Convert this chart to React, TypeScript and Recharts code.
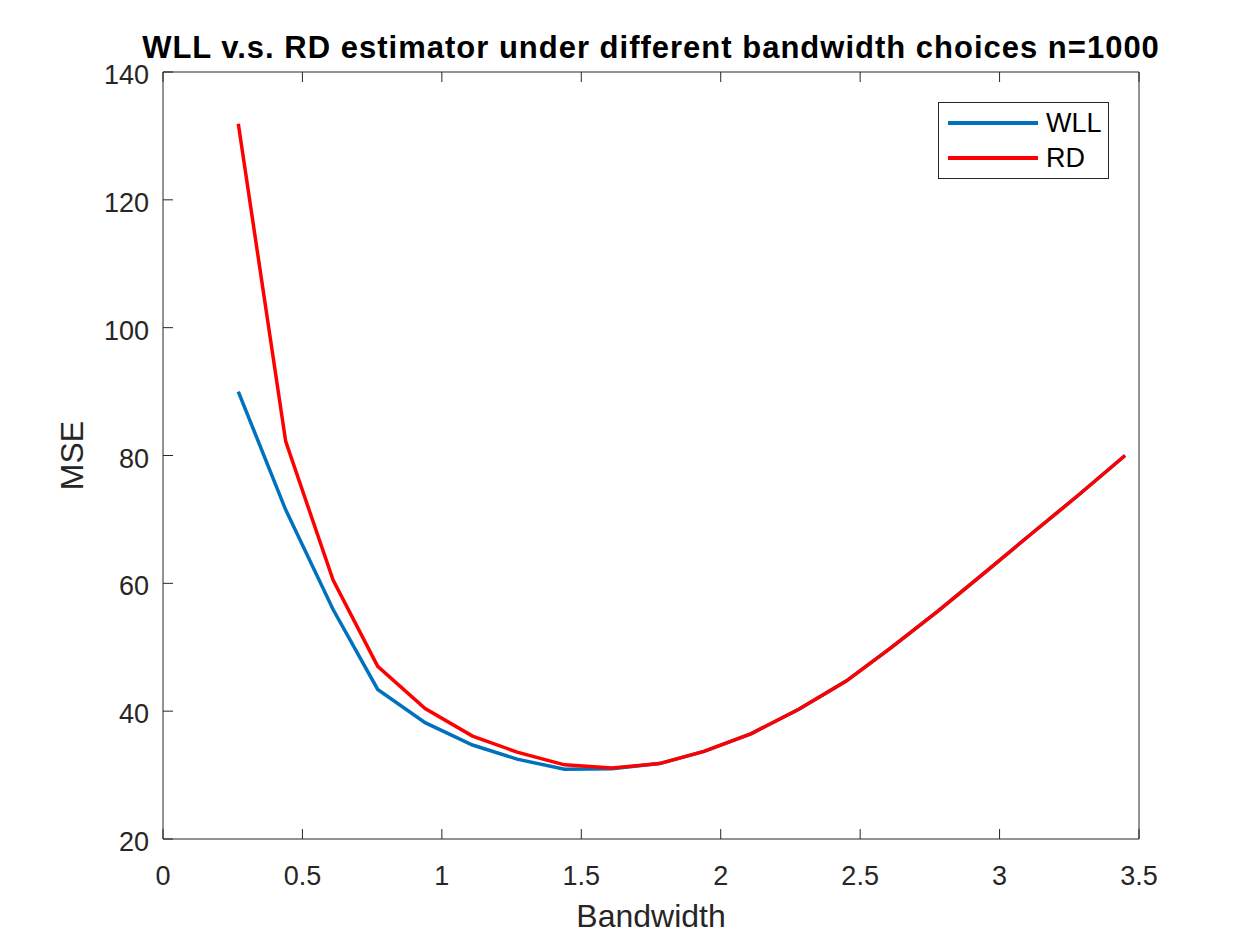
import { LineChart, Line, XAxis, YAxis } from 'recharts';

const bandwidth = [0.27, 0.44, 0.61, 0.77, 0.94, 1.11, 1.27, 1.44, 1.61, 1.78, 1.94, 2.11, 2.28, 2.45, 2.61, 2.78, 2.95, 3.11, 3.28, 3.45];
const wllMse = [90.0, 71.5, 55.9, 43.4, 38.2, 34.7, 32.5, 30.9, 31.0, 31.8, 33.7, 36.5, 40.3, 44.7, 49.9, 55.7, 61.8, 67.6, 73.7, 80.0];
const rdMse = [131.9, 82.2, 60.5, 47.0, 40.4, 36.1, 33.6, 31.6, 31.1, 31.8, 33.7, 36.5, 40.3, 44.7, 49.9, 55.7, 61.8, 67.6, 73.7, 80.0];
const xTicks = [0, 0.5, 1, 1.5, 2, 2.5, 3, 3.5];
const yTicks = [20, 40, 60, 80, 100, 120, 140];

const data = bandwidth.map((h, i) => ({ h, wll: wllMse[i], rd: rdMse[i] }));

const FONT = "Arial, 'Liberation Sans', Helvetica, sans-serif";
const AXIS = '#262626';
const BLUE = '#0072BD';
const RED = '#FF0000';

const BottomTick = (props: any) => {
  const { x, y, payload } = props;
  return (
    <g>
      <line x1={x} x2={x} y1={y} y2={y - 10} stroke={AXIS} />
      <text x={x} y={y + 46} textAnchor="middle" fontSize={27} fill={AXIS} fontFamily={FONT}>
        {payload.value}
      </text>
    </g>
  );
};

const TopTick = (props: any) => {
  const { x, y } = props;
  return <line x1={x} x2={x} y1={y} y2={y + 10} stroke={AXIS} />;
};

const LeftTick = (props: any) => {
  const { x, y, payload } = props;
  return (
    <g>
      <line x1={x} x2={x + 10} y1={y} y2={y} stroke={AXIS} />
      <text x={x - 14} y={y + 12} textAnchor="end" fontSize={27} fill={AXIS} fontFamily={FONT}>
        {payload.value}
      </text>
    </g>
  );
};

const RightTick = (props: any) => {
  const { x, y } = props;
  return <line x1={x} x2={x - 10} y1={y} y2={y} stroke={AXIS} />;
};

const legendItems = [
  { name: 'WLL', color: BLUE, top: 20 },
  { name: 'RD', color: RED, top: 55 },
];

const LegendBox = () => (
  <div
    style={{
      position: 'absolute',
      left: 938,
      top: 102,
      width: 171,
      height: 77,
      border: `1px solid ${AXIS}`,
      background: '#fff',
      fontFamily: FONT,
      fontSize: 27,
      color: '#000',
      boxSizing: 'border-box',
    }}
  >
    {legendItems.map((item) => (
      <div key={item.name}>
        <div
          style={{
            position: 'absolute',
            left: 9,
            top: item.top - 2,
            width: 90,
            height: 4,
            background: item.color,
          }}
        />
        <div style={{ position: 'absolute', left: 107, top: item.top - 15, lineHeight: '30px' }}>
          {item.name}
        </div>
      </div>
    ))}
  </div>
);

export default function App() {
  return (
    <div style={{ position: 'absolute', left: 0, top: 0, width: 1260, height: 945, background: '#fff' }}>
      <div
        style={{
          position: 'absolute',
          left: 651,
          top: 32,
          transform: 'translateX(-50%)',
          whiteSpace: 'nowrap',
          fontFamily: FONT,
          fontWeight: 'bold',
          fontSize: 31,
          letterSpacing: 1,
          lineHeight: 1,
          color: '#000',
        }}
      >
        WLL v.s. RD estimator under different bandwidth choices n=1000
      </div>
      <LineChart width={1260} height={945} data={data} margin={{ top: 71, right: 120, bottom: 0, left: 0 }}>
        <XAxis
          dataKey="h"
          type="number"
          domain={[0, 3.5]}
          ticks={xTicks}
          interval={0}
          height={106}
          tickSize={0}
          tickMargin={0}
          tickLine={false}
          tick={<BottomTick />}
          axisLine={{ stroke: AXIS }}
          label={{ value: 'Bandwidth', position: 'insideBottom', offset: 18, fontSize: 32, fill: AXIS, fontFamily: FONT }}
        />
        <XAxis
          xAxisId="top"
          dataKey="h"
          type="number"
          orientation="top"
          domain={[0, 3.5]}
          ticks={xTicks}
          interval={0}
          height={1}
          tickSize={0}
          tickMargin={0}
          tickLine={false}
          tick={<TopTick />}
          axisLine={{ stroke: AXIS }}
        />
        <YAxis
          type="number"
          domain={[20, 140]}
          ticks={yTicks}
          interval={0}
          width={163}
          tickSize={0}
          tickMargin={0}
          tickLine={false}
          tick={<LeftTick />}
          axisLine={{ stroke: AXIS }}
          label={{
            value: 'MSE',
            angle: -90,
            position: 'insideLeft',
            offset: 72,
            fontSize: 32,
            fill: AXIS,
            fontFamily: FONT,
            style: { textAnchor: 'middle' },
          }}
        />
        <YAxis
          yAxisId="right"
          orientation="right"
          type="number"
          domain={[20, 140]}
          ticks={yTicks}
          interval={0}
          width={1}
          tickSize={0}
          tickMargin={0}
          tickLine={false}
          tick={<RightTick />}
          axisLine={{ stroke: AXIS }}
        />
        <Line type="linear" dataKey="wll" name="WLL" stroke={BLUE} strokeWidth={3.5} dot={false} isAnimationActive={false} />
        <Line type="linear" dataKey="rd" name="RD" stroke={RED} strokeWidth={3.5} dot={false} isAnimationActive={false} />
      </LineChart>
      <LegendBox />
    </div>
  );
}
